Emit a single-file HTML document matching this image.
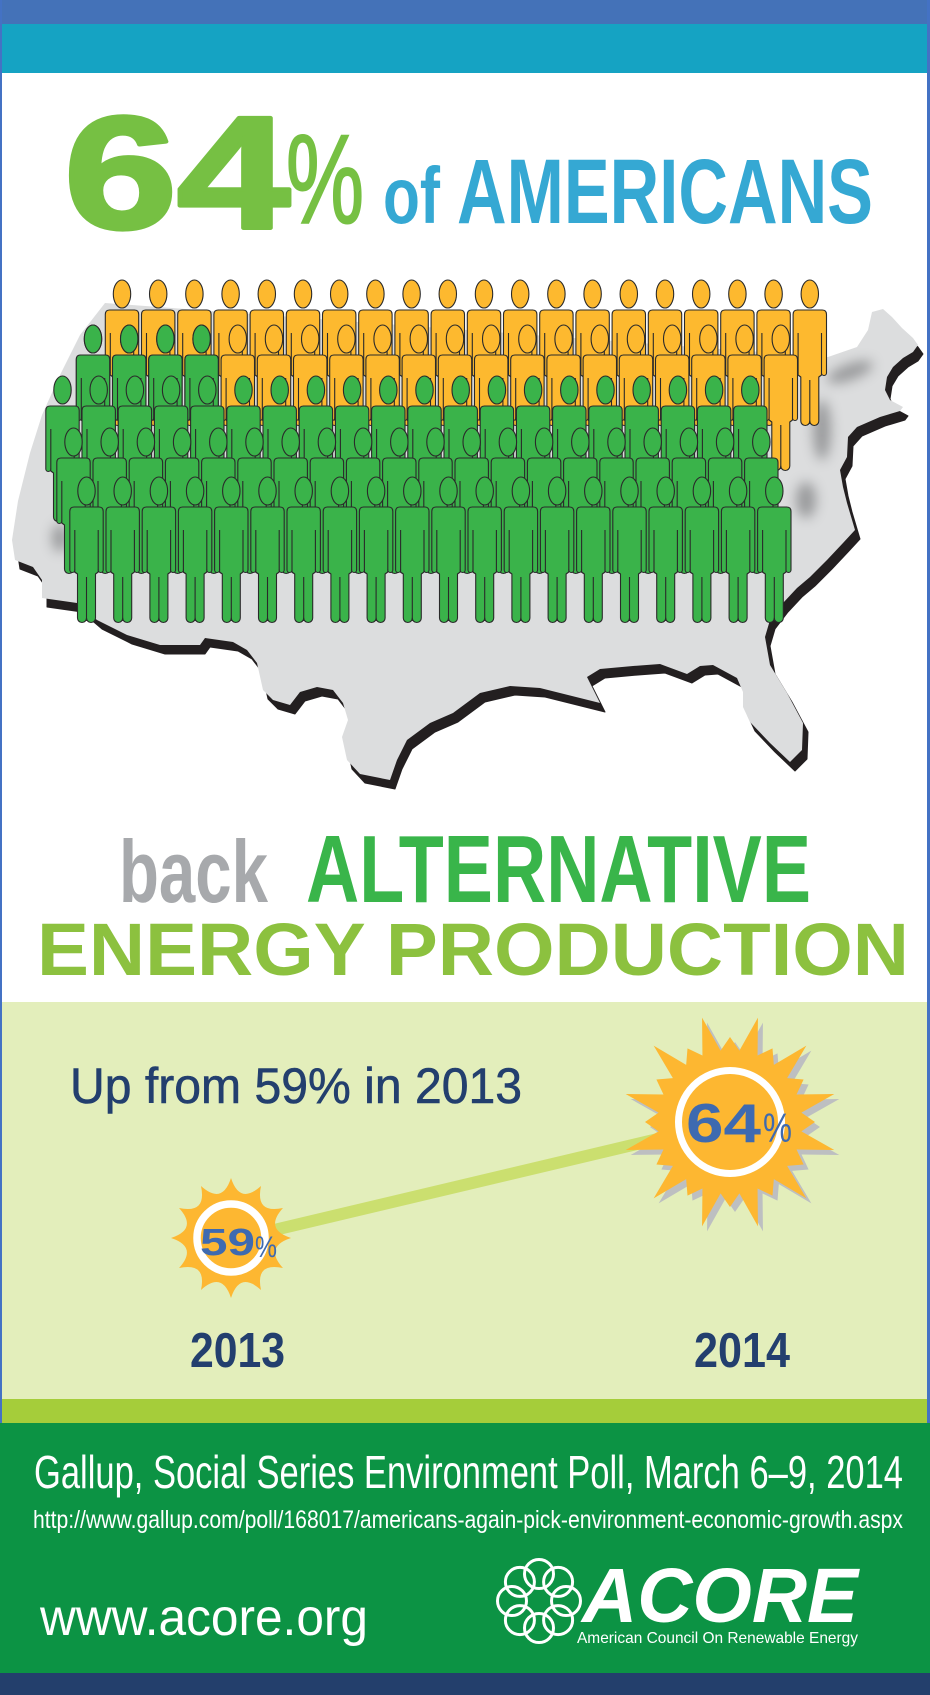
<!DOCTYPE html>
<html>
<head>
<meta charset="utf-8">
<style>
  html,body{margin:0;padding:0;background:#fff;}
  svg{display:block;}
  text{font-family:"Liberation Sans", Arial, sans-serif;}
</style>
</head>
<body>
<svg width="930" height="1695" viewBox="0 0 930 1695" xmlns="http://www.w3.org/2000/svg">
  <defs>
    <g id="p" stroke="#2a2a2a" stroke-width="1.1" stroke-linejoin="round">
      <ellipse cx="0" cy="14" rx="8.7" ry="14"/>
      <path d="M -12.5 30 H 12.5 Q 16.7 30 16.7 34.5 V 93 A 2.5 2.5 0 0 1 11.7 93 V 95 L 9 97 V 141 A 4.5 4.5 0 0 1 0 141 A 4.5 4.5 0 0 1 -9 141 V 97 L -11.7 95 V 93 A 2.5 2.5 0 0 1 -16.7 93 V 34.5 Q -16.7 30 -12.5 30 Z"/>
      <path d="M 11.7 53 V 93 M -11.7 53 V 93 M 0 100 V 144" fill="none"/>
    </g>
    <g id="row">
      <use href="#p" x="0"/><use href="#p" x="36.2"/><use href="#p" x="72.4"/><use href="#p" x="108.6"/>
      <use href="#p" x="144.8"/><use href="#p" x="181"/><use href="#p" x="217.2"/><use href="#p" x="253.4"/>
      <use href="#p" x="289.6"/><use href="#p" x="325.8"/><use href="#p" x="362"/><use href="#p" x="398.2"/>
      <use href="#p" x="434.4"/><use href="#p" x="470.6"/><use href="#p" x="506.8"/><use href="#p" x="543"/>
      <use href="#p" x="579.2"/><use href="#p" x="615.4"/><use href="#p" x="651.6"/><use href="#p" x="687.8"/>
    </g>
    <path id="map" d="M105,303 L828,357 L857,347 L868,330 L872,312 L883,309 L892,317 L902,328 L913,338 L918,345 L913,352 L903,358 L893,367 L887,377 L885,390 L890,400 L903,407 L900,411 L880,417 L857,427 L848,437 L847,457 L840,470 L843,487 L847,503 L855,530 L843,543 L827,560 L810,577 L797,588 L783,603 L770,620 L765,637 L770,665 L787,693 L803,723 L802,750 L790,762 L770,743 L750,722 L743,707 L743,692 L737,678 L713,665 L700,666 L687,674 L660,664 L633,666 L600,669 L587,677 L600,703 L560,693 L540,688 L510,686 L480,693 L453,713 L430,723 L407,740 L397,760 L390,780 L360,774 L347,760 L342,737 L348,720 L343,703 L333,690 L317,687 L300,692 L290,705 L273,700 L263,690 L257,663 L247,650 L233,642 L205,638 L200,645 L160,645 L127,635 L97,620 L77,603 L42,598 L42,580 L33,567 L15,560 L12,540 L18,501 L30,453 L42,415 L60,375 L80,335 Z"/>
    <clipPath id="mapclip"><use href="#map"/></clipPath>
    <filter id="blur" x="-50%" y="-50%" width="200%" height="200%"><feGaussianBlur stdDeviation="6"/></filter>
    <polygon id="bigsun" points="0,-85 9.40,-71.38 27.95,-104.32 27.55,-66.52 42.5,-73.61 43.83,-57.12 76.37,-76.37 57.12,-43.83 73.61,-42.5 66.52,-27.55 104.32,-27.95 71.38,-9.40 85,0 71.38,9.40 104.32,27.95 66.52,27.55 73.61,42.5 57.12,43.83 76.37,76.37 43.83,57.12 42.5,73.61 27.55,66.52 27.95,104.32 9.40,71.38 0,85 -9.40,71.38 -27.95,104.32 -27.55,66.52 -42.5,73.61 -43.83,57.12 -76.37,76.37 -57.12,43.83 -73.61,42.5 -66.52,27.55 -104.32,27.95 -71.38,9.40 -85,0 -71.38,-9.40 -104.32,-27.95 -66.52,-27.55 -73.61,-42.5 -57.12,-43.83 -76.37,-76.37 -43.83,-57.12 -42.5,-73.61 -27.55,-66.52 -27.95,-104.32 -9.40,-71.38"/>
  </defs>

  <!-- backgrounds -->
  <rect x="0" y="0" width="930" height="1695" fill="#ffffff"/>
  <rect x="0" y="0" width="930" height="24" fill="#4472B8"/>
  <rect x="0" y="24" width="930" height="49" fill="#15A3C3"/>
  <rect x="0" y="1002" width="930" height="397" fill="#E3EEBB"/>
  <rect x="0" y="1399" width="930" height="24" fill="#A5CD3A"/>
  <rect x="0" y="1423" width="930" height="250" fill="#0C9344"/>
  <rect x="0" y="1673" width="930" height="22" fill="#233F6C"/>
  <rect x="0" y="0" width="2" height="1423" fill="#4472C4"/>
  <rect x="927" y="0" width="3" height="1423" fill="#4472C4"/>

  <!-- headline -->
  <text x="64" y="228" font-size="160" font-weight="bold" fill="#76C043" stroke="#76C043" stroke-width="4" stroke-linejoin="round" textLength="226" lengthAdjust="spacingAndGlyphs">64</text>
  <text x="286" y="223" font-size="126" fill="#76C043" stroke="#76C043" stroke-width="2" textLength="78" lengthAdjust="spacingAndGlyphs">%</text>
  <text x="383" y="223" font-size="80" font-weight="bold" fill="#35A8D3" textLength="57" lengthAdjust="spacingAndGlyphs">of</text>
  <text x="457" y="223" font-size="92" font-weight="bold" fill="#35A8D3" textLength="416" lengthAdjust="spacingAndGlyphs">AMERICANS</text>

  <!-- map -->
  <use href="#map" transform="translate(5,9)" fill="#231F20" stroke="#231F20" stroke-width="1" stroke-linejoin="round"/>
  <use href="#map" fill="#DCDDDE"/>
  <g clip-path="url(#mapclip)">
    <g filter="url(#blur)" fill="#7d7e80" opacity="0.7">
      <ellipse cx="850" cy="372" rx="24" ry="8" transform="rotate(-20 850 372)"/>
      <ellipse cx="822" cy="430" rx="9" ry="30"/>
      <ellipse cx="806" cy="500" rx="10" ry="18"/>
      <ellipse cx="60" cy="538" rx="8" ry="14"/>
    </g>
  </g>

  <!-- people -->
  <use href="#row" x="122" y="280" fill="#FDB92F"/>
  <use href="#row" x="93" y="325" fill="#FDB92F"/>
  <g fill="#3AB34A">
    <use href="#p" x="93" y="325"/><use href="#p" x="129.2" y="325"/><use href="#p" x="165.4" y="325"/><use href="#p" x="201.6" y="325"/>
  </g>
  <use href="#row" x="62.5" y="376" fill="#3AB34A"/>
  <use href="#row" x="73.5" y="428" fill="#3AB34A"/>
  <use href="#row" x="86.5" y="477" fill="#3AB34A"/>

  <!-- subheadline -->
  <text x="119" y="902" font-size="88" font-weight="bold" fill="#A7A9AC" textLength="149" lengthAdjust="spacingAndGlyphs">back</text>
  <text x="306" y="902" font-size="96" font-weight="bold" fill="#39B54A" textLength="505" lengthAdjust="spacingAndGlyphs">ALTERNATIVE</text>
  <text x="37" y="975" font-size="74" font-weight="bold" fill="#8CC13F" textLength="872" lengthAdjust="spacingAndGlyphs">ENERGY PRODUCTION</text>

  <!-- chart section -->
  <text x="70" y="1103" font-size="50" fill="#233F6E" stroke="#233F6E" stroke-width="0.6" textLength="452" lengthAdjust="spacingAndGlyphs">Up from 59% in 2013</text>

  <line x1="232" y1="1240" x2="700" y2="1129" stroke="#CBDF6F" stroke-width="12"/>

  <!-- big sun -->
  <use href="#bigsun" transform="translate(735,1127)" fill="#BDBFC1"/>
  <use href="#bigsun" transform="translate(730,1122)" fill="#FDB731"/>
  <circle cx="730" cy="1122" r="51.5" fill="#FDB731" stroke="#ffffff" stroke-width="7"/>
  <text x="686" y="1142" font-size="55" font-weight="bold" fill="#3E6AB0" textLength="75" lengthAdjust="spacingAndGlyphs">64</text>
  <text x="763" y="1142" font-size="41" fill="#3E6AB0" textLength="29" lengthAdjust="spacingAndGlyphs">%</text>

  <!-- small sun -->
  <path transform="translate(231,1238)" fill="#FDB731" d="M0,-60 Q8.80,-32.84 30,-51.96 Q24.04,-24.04 51.96,-30 Q32.84,-8.80 60,0 Q32.84,8.80 51.96,30 Q24.04,24.04 30,51.96 Q8.80,32.84 0,60 Q-8.80,32.84 -30,51.96 Q-24.04,24.04 -51.96,30 Q-32.84,8.80 -60,0 Q-32.84,-8.80 -51.96,-30 Q-24.04,-24.04 -30,-51.96 Q-8.80,-32.84 0,-60 Z"/>
  <circle cx="231" cy="1238" r="34" fill="#FDB731" stroke="#ffffff" stroke-width="7.5"/>
  <text x="200" y="1255" font-size="38" font-weight="bold" fill="#3E6AB0" textLength="55" lengthAdjust="spacingAndGlyphs">59</text>
  <text x="255" y="1257" font-size="30" fill="#3E6AB0" textLength="22" lengthAdjust="spacingAndGlyphs">%</text>

  <text x="190" y="1367" font-size="49" font-weight="bold" fill="#233F6E" textLength="95" lengthAdjust="spacingAndGlyphs">2013</text>
  <text x="694" y="1367" font-size="49" font-weight="bold" fill="#233F6E" textLength="96" lengthAdjust="spacingAndGlyphs">2014</text>

  <!-- footer -->
  <text x="34" y="1488" font-size="46" fill="#ffffff" textLength="869" lengthAdjust="spacingAndGlyphs">Gallup, Social Series Environment Poll, March 6–9, 2014</text>
  <text x="33" y="1528" font-size="25" fill="#ffffff" textLength="870" lengthAdjust="spacingAndGlyphs">http://www.gallup.com/poll/168017/americans-again-pick-environment-economic-growth.aspx</text>
  <text x="40" y="1635" font-size="52" fill="#ffffff" textLength="328" lengthAdjust="spacingAndGlyphs">www.acore.org</text>

  <g fill="none" stroke="#ffffff" stroke-width="3">
    <circle cx="539" cy="1574" r="14.5"/>
    <circle cx="558.1" cy="1581.9" r="14.5"/>
    <circle cx="566" cy="1601" r="14.5"/>
    <circle cx="558.1" cy="1620.1" r="14.5"/>
    <circle cx="539" cy="1628" r="14.5"/>
    <circle cx="519.9" cy="1620.1" r="14.5"/>
    <circle cx="512" cy="1601" r="14.5"/>
    <circle cx="519.9" cy="1581.9" r="14.5"/>
  </g>
  <text x="582" y="1622" font-size="77" font-weight="bold" font-style="italic" fill="#ffffff" textLength="276" lengthAdjust="spacingAndGlyphs">ACORE</text>
  <text x="577" y="1643" font-size="16" fill="#ffffff" textLength="281" lengthAdjust="spacingAndGlyphs">American Council On Renewable Energy</text>
</svg>
</body>
</html>
